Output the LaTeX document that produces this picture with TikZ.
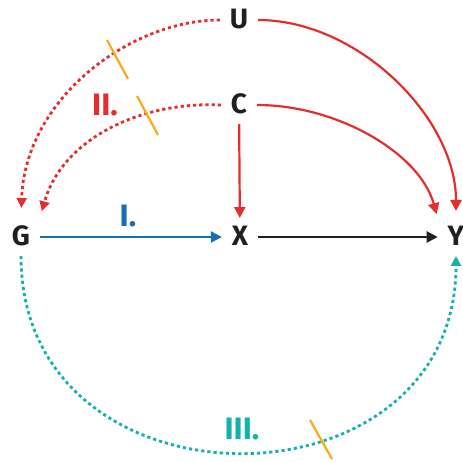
\documentclass[tikz,border=0pt]{standalone}
\usepackage{fontspec}
\setmainfont{Fira Sans}
\usetikzlibrary{arrows.meta}

\definecolor{dagred}{RGB}{230,45,45}
\definecolor{dagblue}{RGB}{22,110,180}
\definecolor{dagteal}{RGB}{20,178,172}
\definecolor{dagorange}{RGB}{250,170,25}
\definecolor{dagblack}{RGB}{35,31,32}

\begin{document}
\begin{tikzpicture}[x=1pt,y=-1pt,
  var/.style={font=\fontsize{28}{28}\selectfont\bfseries, text=dagblack,
    inner sep=0pt, outer sep=10pt, text height=18pt, text depth=0pt},
  lbl/.style={font=\fontsize{31}{31}\selectfont\bfseries},
  solidarr/.style={line width=2.2pt, -{Triangle[length=11pt,width=11pt]}},
  dotarr/.style={line width=2.8pt, dash pattern=on 3.2pt off 3pt,
    -{Triangle[length=10pt,width=10pt]}},
  cut/.style={dagorange, line width=2.2pt}]
  \useasboundingbox (0,0) rectangle (463,462);

  % variables
  \node[var] (U) at (239,20) {U};
  \node[var] (C) at (239,105) {C};
  \node[var] (G) at (21,237) {G};
  \node[var] (X) at (240,237) {X};
  \node[var] (Y) at (456,237) {Y};

  % straight edges
  \draw[solidarr, dagblue] (G) -- (X);
  \draw[solidarr, dagblack] (X) -- (Y);
  \draw[solidarr, dagred] (C) -- (X);

  % curved edges into Y
  \draw[solidarr, dagred, shorten >=7pt] (U.east) .. controls +(100,0) and +(0,-100) .. (Y.north);
  \draw[solidarr, dagred, shorten >=4pt] (C.east) .. controls +(80,0) and +(-18,-65) .. (Y.north west);

  % dotted paths into G (II.)
  \draw[dotarr, dagred, shorten >=10pt] (U.west) .. controls +(-90,0) and +(4,-119) .. (G.north);
  \draw[dotarr, dagred, shorten >=7pt] (C.west) .. controls +(-80,-4) and +(22,-79) .. (G.north east);

  % dotted path G to Y (III.)
  \draw[dotarr, dagteal] (G.south) .. controls +(0,262) and +(0,262) .. (Y.south);

  % blocked paths
  \draw[cut] (107,40) -- (128,79);
  \draw[cut] (137,96) -- (158,135);
  \draw[cut] (310,420) -- (332,459);

  % labels
  \node[lbl, text=dagblue] (l1) at (128,216) {I.};
  \node[lbl, text=dagred] (l2) at (105,105) {II.};
  \node[lbl, text=dagteal] (l3) at (242,429) {III.};
\end{tikzpicture}
\end{document}
